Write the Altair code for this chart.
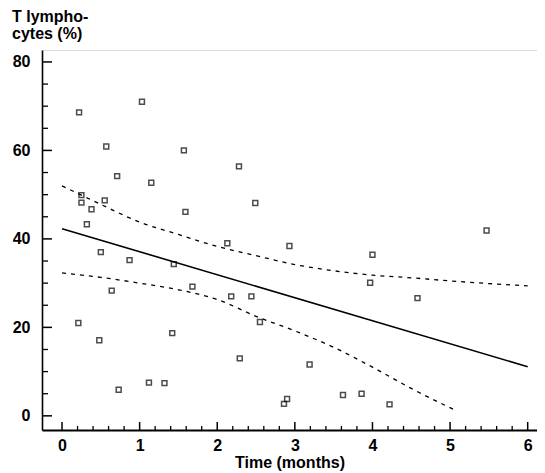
import altair as alt
import pandas as pd

# Observed points (time in months, T lymphocytes %)
pt_x = [0.22, 1.03, 0.57, 1.57, 2.28, 0.71, 1.15, 0.25, 0.25, 0.55, 0.38, 1.59, 2.49,
        0.32, 2.13, 2.93, 0.50, 0.87, 1.44, 0.64, 1.68, 2.18, 2.44, 2.55, 0.21, 0.48,
        1.42, 2.29, 3.19, 1.12, 1.32, 0.73, 2.86, 2.90, 4.00, 5.47, 3.97, 4.58, 3.62,
        3.86, 4.22]
pt_y = [68.6, 71.0, 60.9, 60.0, 56.4, 54.2, 52.7, 49.9, 48.2, 48.7, 46.7, 46.1, 48.1,
        43.3, 39.0, 38.4, 37.0, 35.2, 34.3, 28.3, 29.2, 27.0, 27.0, 21.2, 21.0, 17.1,
        18.7, 13.0, 11.6, 7.5, 7.4, 5.9, 2.7, 3.8, 36.4, 41.9, 30.1, 26.6, 4.7,
        5.0, 2.6]

# Regression line (end points)
reg_x = [0.0, 6.0]
reg_y = [42.3, 11.1]

# Confidence bands
up_x = [0.0, 0.5, 1.0, 1.5, 2.0, 2.5, 3.0, 3.5, 4.0, 4.5, 5.0, 5.5, 6.0]
up_y = [52.0, 47.8, 43.8, 41.0, 38.3, 36.2, 34.2, 32.8, 31.8, 31.2, 30.5, 29.9, 29.4]
lo_x = [0.0, 0.5, 1.0, 1.5, 2.0, 2.5, 3.0, 3.5, 4.0, 4.5, 5.05]
lo_y = [32.3, 31.3, 30.0, 28.5, 26.3, 22.5, 19.2, 15.5, 11.0, 6.2, 1.4]

# Axis ticks
x_major = [0, 1, 2, 3, 4, 5, 6]
x_minor = [round(i * 0.2, 1) for i in range(31) if i % 5 != 0]
y_major = [0, 20, 40, 60, 80]
y_minor = [5, 10, 15, 25, 30, 35, 45, 50, 55, 65, 70, 75]

W, H = 495, 380
FONT = "Liberation Sans"

xs = alt.Scale(domain=[-0.258, 6.12], nice=False, zero=False)
ys = alt.Scale(domain=[-3.2, 82.7], nice=False, zero=False)

pts = pd.DataFrame({"x": pt_x, "y": pt_y})
reg = pd.DataFrame({"x": reg_x, "y": reg_y})
up = pd.DataFrame({"x": up_x, "y": up_y})
lo = pd.DataFrame({"x": lo_x, "y": lo_y})

xaxis = alt.Axis(values=x_major, format="d", ticks=False, grid=False, domain=True,
                 domainColor="black", domainWidth=2, labelFont=FONT, labelFontSize=16,
                 labelFontWeight="bold", labelColor="black", labelPadding=7,
                 title="Time (months)", titleFont=FONT, titleFontSize=16,
                 titleFontWeight="bold", titleColor="black", titlePadding=1)
yaxis = alt.Axis(values=y_major, format="d", ticks=False, grid=False, domain=True,
                 domainColor="black", domainWidth=1.6, labelFont=FONT, labelFontSize=16,
                 labelFontWeight="bold", labelColor="black", labelPadding=12, title=None)

points = alt.Chart(pts).mark_square(filled=False, size=24, color="black", strokeWidth=1.5).encode(
    x=alt.X("x:Q", scale=xs, axis=xaxis),
    y=alt.Y("y:Q", scale=ys, axis=yaxis),
)

line = alt.Chart(reg).mark_line(color="black", strokeWidth=1.6).encode(
    x=alt.X("x:Q", scale=xs), y=alt.Y("y:Q", scale=ys))

upper = alt.Chart(up).mark_line(color="black", strokeWidth=1.3, strokeDash=[4, 5],
                                interpolate="monotone").encode(
    x=alt.X("x:Q", scale=xs), y=alt.Y("y:Q", scale=ys))
lower = alt.Chart(lo).mark_line(color="black", strokeWidth=1.3, strokeDash=[4, 5],
                                interpolate="monotone").encode(
    x=alt.X("x:Q", scale=xs), y=alt.Y("y:Q", scale=ys))

xmaj = alt.Chart(pd.DataFrame({"t": x_major})).mark_rule(color="black", strokeWidth=1.5).encode(
    x=alt.X("t:Q", scale=xs), y=alt.value(H), y2=alt.value(H - 8))
xmin = alt.Chart(pd.DataFrame({"t": x_minor})).mark_rule(color="black", strokeWidth=1.3).encode(
    x=alt.X("t:Q", scale=xs), y=alt.value(H), y2=alt.value(H - 4))
ymaj = alt.Chart(pd.DataFrame({"t": y_major})).mark_rule(color="black", strokeWidth=1.5).encode(
    y=alt.Y("t:Q", scale=ys), x=alt.value(0), x2=alt.value(10))
ymin = alt.Chart(pd.DataFrame({"t": y_minor})).mark_rule(color="black", strokeWidth=1.3).encode(
    y=alt.Y("t:Q", scale=ys), x=alt.value(0), x2=alt.value(6))

chart = alt.layer(points, line, upper, lower, xmaj, xmin, ymaj, ymin).properties(
    width=W, height=H,
    autosize=alt.AutoSizeParams(type="none"),
    padding={"left": 34, "top": 42, "right": 0, "bottom": 42},
    title=alt.TitleParams(["T lympho-", "cytes (%)"], anchor="start", frame="group",
                          dx=-30, offset=8, font=FONT, fontSize=16, fontWeight="bold",
                          color="black", lineHeight=17),
).configure_view(stroke=None).configure(background="white")

chart.save("out.html", embed_options={"renderer": "svg", "actions": False})
